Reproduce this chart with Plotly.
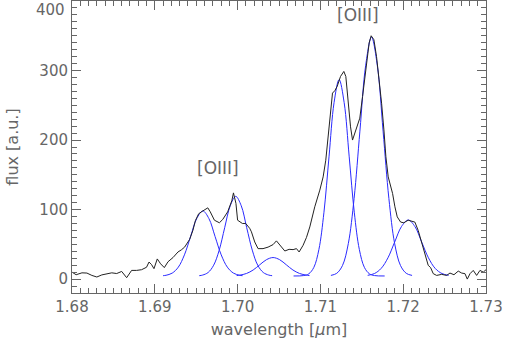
import plotly.graph_objects as go

# observed spectrum (wavelength in micron, flux in a.u.)
wave = [1.6800, 1.6805, 1.6812, 1.6818, 1.6824, 1.6830, 1.6836, 1.6842, 1.6848, 1.6854,
        1.6860, 1.6866, 1.6872, 1.6878, 1.6884, 1.6890, 1.6893, 1.6896, 1.6899, 1.6903,
        1.6907, 1.69115, 1.6916, 1.6922, 1.6928, 1.6932, 1.6936, 1.6942, 1.6946, 1.6949,
        1.6953, 1.6958, 1.6964, 1.6967, 1.6972, 1.6978, 1.6982, 1.6988, 1.6993, 1.6995,
        1.6998, 1.7000, 1.70058, 1.70098, 1.70146, 1.70167, 1.70207, 1.70247, 1.70307, 1.70368,
        1.70428, 1.70469, 1.70509, 1.7057, 1.70622, 1.7067, 1.70711, 1.70743, 1.70791, 1.70832,
        1.70872, 1.70932, 1.70993, 1.71033, 1.71065, 1.71093, 1.71122, 1.71146, 1.71174, 1.71202,
        1.71243, 1.71283, 1.71307, 1.71335, 1.71364, 1.71388, 1.71416, 1.71444, 1.71476, 1.71509,
        1.71549, 1.71589, 1.71613, 1.71646, 1.71678, 1.7171, 1.71739, 1.71767, 1.71791, 1.71819,
        1.71845, 1.71872, 1.719, 1.71928, 1.71969, 1.72008, 1.7206, 1.72101, 1.72141, 1.72181,
        1.72222, 1.72262, 1.72302, 1.72331, 1.72363, 1.72404, 1.72464, 1.72525, 1.72565, 1.72613,
        1.72665, 1.72706, 1.72746, 1.72774, 1.72807, 1.72846, 1.72887, 1.72927, 1.72967, 1.7300]
flux = [10, 6.3, 9, 8.7, 5.3, 3, 6, 7.8, 9, 8,
        11, 2, 12.5, 12.5, 13.5, 17, 24.5, 21, 15, 29,
        22, 16.5, 25, 31, 39, 42, 46, 57, 70, 84,
        94, 98, 102.5, 96.7, 84.7, 81, 85.7, 96.7, 112.6, 124,
        108.8, 84.7, 80, 80, 73, 68, 53.4, 43.8, 43.8, 46,
        49.6, 55, 48.6, 40.4, 42.8, 42.4, 43.8, 39, 48.6, 60,
        75, 104, 128, 147, 171, 205, 243, 267.5, 271, 277,
        291.5, 298.7, 291.5, 253, 219, 200, 210, 219, 231.5, 262.6,
        306, 339.7, 350, 344.4, 320, 286.7, 253, 214.6, 176, 147,
        136, 123, 104, 89.5, 82, 81, 84.7, 83, 82, 70,
        53.4, 39, 19.8, 16.5, 7.8, 5.3, 6.8, 5.3, 8.7, 6.3,
        11.5, 8.7, 7.8, 0, 7.8, 12.5, 5.3, 12.5, 10, 13.5]

# fitted gaussian components
g1_x = [1.6910, 1.69136, 1.6921, 1.69284, 1.69358, 1.69432, 1.69506, 1.6958,
        1.69654, 1.69728, 1.69802, 1.69876, 1.6995, 1.70024, 1.7006]
g1_y = [4.9, 5.5, 8.6, 17.2, 34.9, 61.2, 87.0, 98, 87.0, 61.2, 34.9, 17.2, 8.6, 5.5, 4.9]

g2_x = [1.69537, 1.69578, 1.69644, 1.69711, 1.69778, 1.69844, 1.69911, 1.69977,
        1.70044, 1.7011, 1.70177, 1.70243, 1.7031, 1.70376, 1.70417]
g2_y = [4.9, 5.8, 9.5, 20.0, 41.7, 73.9, 105.5, 119, 105.5, 73.9, 41.7, 20.0, 9.5, 5.8, 4.9]

g3_x = [1.69988, 1.70028, 1.70108, 1.70188, 1.70268, 1.70348, 1.70428,
        1.70508, 1.70588, 1.70668, 1.70748, 1.70828, 1.70868]
g3_y = [5.1, 5.7, 8.1, 13.1, 20.6, 27.9, 31, 27.9, 20.6, 13.1, 8.1, 5.7, 5.1]

g4_x = [1.70676, 1.70799, 1.7086, 1.70921, 1.70982, 1.71043, 1.71104, 1.71165, 1.71226,
        1.71287, 1.71348, 1.71409, 1.7147, 1.71531, 1.71592, 1.71653, 1.71776]
g4_y = [4.5, 5.1, 7.6, 16.9, 42.7, 96.2, 175.8, 253.8, 287,
        253.8, 175.8, 96.2, 42.7, 16.9, 7.6, 5.1, 4.5]

g5_x = [1.71127, 1.71197, 1.71267, 1.71337, 1.71407, 1.71477, 1.71547, 1.71617,
        1.71687, 1.71757, 1.71827, 1.71897, 1.71967, 1.72037, 1.72107]
g5_y = [5.3, 8.3, 19.6, 51.0, 116.0, 212.8, 307.6, 348, 307.6, 212.8, 116.0, 51.0, 19.6, 8.3, 5.3]

g6_x = [1.71571, 1.71653, 1.71734, 1.71816, 1.71897, 1.71979, 1.7206,
        1.72142, 1.72223, 1.72305, 1.72386, 1.72468, 1.72549]
g6_y = [5.4, 8.0, 15.4, 30.6, 53.3, 75.5, 85, 75.5, 53.3, 30.6, 15.4, 8.0, 5.4]

components = [(g1_x, g1_y), (g2_x, g2_y), (g3_x, g3_y), (g4_x, g4_y), (g5_x, g5_y), (g6_x, g6_y)]

# line labels
labels = ["[OIII]", "[OIII]"]
label_x = [1.6976, 1.7146]
label_y = [160, 380]

x_ticks = [1.68, 1.69, 1.70, 1.71, 1.72, 1.73]
x_ticktext = ["1.68", "1.69", "1.70", "1.71", "1.72", "1.73"]
y_ticks = [0, 100, 200, 300, 400]
y_ticktext = ["0", "100", "200", "300", "400"]

txt = "#666666"
font = "DejaVu Sans"

fig = go.Figure()

for gx, gy in components:
    fig.add_trace(go.Scatter(x=gx, y=gy, mode="lines", line=dict(color="#2a2aff", width=1, shape="spline"),
                             showlegend=False, hoverinfo="skip"))

fig.add_trace(go.Scatter(x=wave, y=flux, mode="lines", line=dict(color="#222222", width=1),
                         showlegend=False))

for t, lx, ly in zip(labels, label_x, label_y):
    fig.add_annotation(x=lx, y=ly, text=t, showarrow=False, font=dict(family=font, size=17, color=txt))

# top tick label sits fully inside the picture in the reference
fig.add_annotation(x=0, xref="paper", y=y_ticks[-1], yref="y", text=y_ticktext[-1], showarrow=False,
                   xanchor="right", yanchor="top", xshift=-5, yshift=2,
                   font=dict(family=font, size=15, color=txt))

axis_common = dict(showgrid=False, zeroline=False, showline=True, linecolor=txt, linewidth=1,
                   mirror="allticks", ticks="inside", ticklen=9, tickcolor=txt, automargin=False,
                   tickfont=dict(family=font, size=15, color=txt))

fig.update_xaxes(range=[1.68, 1.73], tickvals=x_ticks, ticktext=x_ticktext,
                 minor=dict(ticks="inside", ticklen=5, tickcolor=txt, dtick=0.001, showgrid=False),
                 title=dict(text="wavelength [<i>μ</i>m]", font=dict(family=font, size=16, color=txt), standoff=8),
                 **axis_common)
fig.update_yaxes(range=[-20, 400], tickvals=y_ticks, ticktext=y_ticktext[:-1] + [""],
                 minor=dict(ticks="inside", ticklen=5, tickcolor=txt, dtick=10, showgrid=False),
                 title=dict(text="flux [a.u.]", font=dict(family=font, size=16, color=txt), standoff=16),
                 **axis_common)

fig.update_layout(width=505, height=348, margin=dict(l=72, r=19, t=1, b=55),
                  plot_bgcolor="white", paper_bgcolor="white")

# drop the default page margin so the figure fills the window exactly
fig.write_html("out.html", config={"displayModeBar": False},
               post_script="document.body.style.margin='0';document.body.style.overflow='hidden';")
